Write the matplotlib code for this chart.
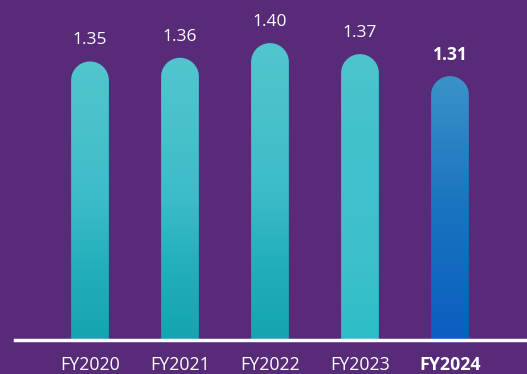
import matplotlib
matplotlib.use("Agg")
import matplotlib.pyplot as plt
import numpy as np
from matplotlib.colors import LinearSegmentedColormap
from matplotlib.path import Path as MplPath
from matplotlib.patches import PathPatch

years = ["FY2020", "FY2021", "FY2022", "FY2023", "FY2024"]
values = [1.35, 1.36, 1.40, 1.37, 1.31]
highlight = "FY2024"

BG = "#582b78"
TEAL = ["#14a5b0", "#22aebb", "#3cbcc8", "#48c1cb", "#52c5ce"]
TEAL_LIGHT = ["#2cbec8", "#3cc0ca", "#40c1cb", "#44c2cc", "#4cc4cd"]
BLUE = ["#0a5ec0", "#1269bf", "#1a73c0", "#2a82c4", "#3a93c8"]

plt.rcParams["font.family"] = ["Open Sans", "DejaVu Sans"]

fig = plt.figure(figsize=(5.27, 3.74), dpi=100, facecolor=BG)
ax = fig.add_axes([0, 34 / 374, 1, 340 / 374])
ax.set_facecolor(BG)

x = np.arange(len(years))
ymin = 0.591
ax.set_xlim(-1.0, 4.856)
ax.set_ylim(ymin, ymin + 340 / 367)
ax.axis("off")

width = 0.42
rx = width / 2
ry = rx * 90 / 367


def capsule(xc, top):
    t = np.linspace(0, np.pi, 40)
    arc = np.column_stack([xc + rx * np.cos(t), top - ry + ry * np.sin(t)])
    verts = np.vstack([[xc + rx, ymin - 1], arc, [xc - rx, ymin - 1], [xc + rx, ymin - 1]])
    codes = [MplPath.MOVETO] + [MplPath.LINETO] * (len(verts) - 2) + [MplPath.CLOSEPOLY]
    return MplPath(verts, codes)


bars = ax.bar(x, values, width=width, bottom=0, color="none")
for b, yr, v in zip(bars, years, values):
    xc = b.get_x() + b.get_width() / 2
    if yr == highlight:
        cols = BLUE
    elif yr == "FY2023":
        cols = TEAL_LIGHT
    else:
        cols = TEAL
    cmap = LinearSegmentedColormap.from_list(yr, cols)
    grad = np.linspace(0, 1, 256).reshape(-1, 1)
    im = ax.imshow(grad, cmap=cmap, origin="lower", aspect="auto",
                   extent=[xc - rx, xc + rx, ymin, v], zorder=2)
    patch = PathPatch(capsule(xc, v), facecolor="none", edgecolor="none")
    ax.add_patch(patch)
    im.set_clip_path(patch)

    bold = yr == highlight
    ax.text(xc, v + 21 / 367, f"{v:.2f}", ha="center", va="center", color="white",
            fontsize=12.5, fontweight="bold" if bold else "normal")
    fig.text((xc + 1.0) * 90 / 527, 9 / 374, yr, ha="center", va="center",
             color="white", fontsize=12.8, fontweight="bold" if bold else "normal")

ax.axhline(ymin, xmin=15 / 527, xmax=1, color="white", lw=2.5, zorder=3, clip_on=False)

fig.savefig("out.png", dpi=100, facecolor=BG)
